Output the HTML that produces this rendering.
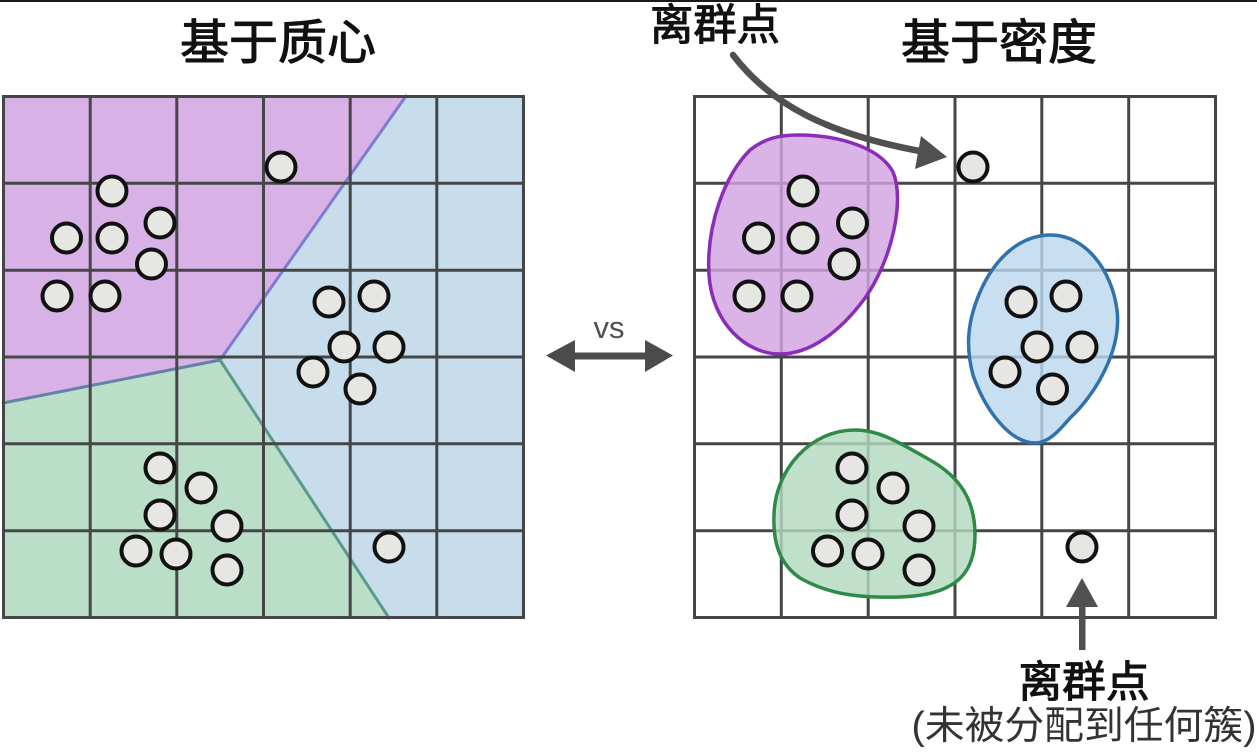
<!DOCTYPE html>
<html><head><meta charset="utf-8"><style>
html,body{margin:0;padding:0;background:#fff;}
svg{display:block;}
.t{font-family:"Liberation Sans","Noto Sans CJK SC",sans-serif;}
.h{stroke:#111;stroke-width:1.1;stroke-linejoin:round;}
</style></head><body>
<svg width="1257" height="752" viewBox="0 0 1257 752" xmlns="http://www.w3.org/2000/svg">
<rect x="0" y="0" width="1257" height="752" fill="#fff"/>
<rect x="0" y="0" width="1257" height="2" fill="#1a1a1a"/>

<!-- Titles -->
<text class="t h" x="278" y="59" font-size="48" text-anchor="middle" textLength="196" lengthAdjust="spacingAndGlyphs" fill="#111">基于质心</text>
<text class="t h" x="999" y="59" font-size="48" text-anchor="middle" textLength="196" lengthAdjust="spacingAndGlyphs" fill="#111">基于密度</text>
<text class="t h" x="715" y="40" font-size="43" text-anchor="middle" textLength="130" lengthAdjust="spacingAndGlyphs" fill="#111">离群点</text>

<!-- LEFT PANEL -->
<polygon points="3,96 406,96 220,360 3,403" fill="#d8b2e6"/>
<polygon points="406,96 524,96 524,618 389,618 220,360" fill="#c7ddec"/>
<polygon points="3,403 220,360 389,618 3,618" fill="#badec7"/>
<g stroke-width="3" fill="none" stroke-linecap="round">
<line x1="406" y1="96" x2="220" y2="360" stroke="#7f7bd0"/>
<line x1="220" y1="360" x2="3" y2="403" stroke="#6481a6"/>
<line x1="220" y1="360" x2="389" y2="618" stroke="#5a9a8c"/>
</g>
<g stroke="#464646" stroke-width="3" fill="none">
<rect x="3.5" y="96.5" width="520" height="521"/>
<line x1="90.2" y1="96.5" x2="90.2" y2="617.5"/>
<line x1="176.8" y1="96.5" x2="176.8" y2="617.5"/>
<line x1="263.5" y1="96.5" x2="263.5" y2="617.5"/>
<line x1="350.2" y1="96.5" x2="350.2" y2="617.5"/>
<line x1="436.8" y1="96.5" x2="436.8" y2="617.5"/>
<line x1="3.5" y1="183.3" x2="523.5" y2="183.3"/>
<line x1="3.5" y1="270.2" x2="523.5" y2="270.2"/>
<line x1="3.5" y1="357" x2="523.5" y2="357"/>
<line x1="3.5" y1="443.8" x2="523.5" y2="443.8"/>
<line x1="3.5" y1="530.7" x2="523.5" y2="530.7"/>
</g>
<g fill="#e6e6e3" stroke="#111" stroke-width="4">
<circle cx="281" cy="167" r="14.5"/>
<circle cx="112" cy="191" r="14.5"/>
<circle cx="160" cy="223" r="14.5"/>
<circle cx="66.5" cy="238" r="14.5"/>
<circle cx="112" cy="238" r="14.5"/>
<circle cx="151.5" cy="264" r="14.5"/>
<circle cx="57" cy="296" r="14.5"/>
<circle cx="105" cy="296" r="14.5"/>
<circle cx="329" cy="302" r="14.5"/>
<circle cx="374" cy="296" r="14.5"/>
<circle cx="344" cy="347" r="14.5"/>
<circle cx="389" cy="347" r="14.5"/>
<circle cx="313" cy="372" r="14.5"/>
<circle cx="360" cy="389" r="14.5"/>
<circle cx="160" cy="468" r="14.5"/>
<circle cx="201" cy="488" r="14.5"/>
<circle cx="160" cy="515" r="14.5"/>
<circle cx="227" cy="526" r="14.5"/>
<circle cx="136" cy="551" r="14.5"/>
<circle cx="176" cy="554" r="14.5"/>
<circle cx="227" cy="570" r="14.5"/>
<circle cx="389" cy="547" r="14.5"/>
</g>

<!-- VS arrow -->
<g fill="#4b4b4b">
<rect x="570" y="352.5" width="80" height="7"/>
<polygon points="546,355.5 575,340 575,372"/>
<polygon points="673,355.5 645,340 645,372"/>
</g>
<text class="t" x="609" y="338" font-size="31" text-anchor="middle" fill="#505050">vs</text>

<!-- RIGHT PANEL -->
<g stroke="#464646" stroke-width="3" fill="none">
<rect x="694.5" y="96.5" width="521" height="521"/>
<line x1="781.3" y1="96.5" x2="781.3" y2="617.5"/>
<line x1="868.2" y1="96.5" x2="868.2" y2="617.5"/>
<line x1="955" y1="96.5" x2="955" y2="617.5"/>
<line x1="1041.8" y1="96.5" x2="1041.8" y2="617.5"/>
<line x1="1128.7" y1="96.5" x2="1128.7" y2="617.5"/>
<line x1="694.5" y1="183.3" x2="1215.5" y2="183.3"/>
<line x1="694.5" y1="270.2" x2="1215.5" y2="270.2"/>
<line x1="694.5" y1="357" x2="1215.5" y2="357"/>
<line x1="694.5" y1="443.8" x2="1215.5" y2="443.8"/>
<line x1="694.5" y1="530.7" x2="1215.5" y2="530.7"/>
</g>

<!-- blobs -->
<path d="M 798 135 C 840 135, 880 148, 893 172 C 905 200, 892 260, 865 298 C 840 332, 810 354, 780 354 C 745 354, 712 322, 709 275 C 706 225, 725 175, 750 150 C 765 138, 780 135, 798 135 Z" fill="#d3a4e2" fill-opacity="0.82" stroke="#8a2db8" stroke-width="3.5"/>
<path d="M 1051 235 C 1085 235, 1112 270, 1117 310 C 1122 350, 1095 395, 1070 418 C 1058 432, 1048 443, 1035 443 C 1010 443, 985 410, 973 375 C 965 345, 968 320, 980 292 C 995 258, 1020 235, 1051 235 Z" fill="#bcd7ee" fill-opacity="0.82" stroke="#2f72ad" stroke-width="3.5"/>
<path d="M 855 430 C 880 430, 900 443, 930 460 C 960 477, 975 500, 975 535 C 975 570, 960 595, 900 597 C 860 598, 830 595, 800 578 C 778 563, 773 540, 774 515 C 775 470, 810 430, 855 430 Z" fill="#b2d9bf" fill-opacity="0.82" stroke="#2f8a48" stroke-width="3.5"/>

<g fill="#e6e6e3" stroke="#111" stroke-width="4">
<circle cx="973" cy="167" r="14.5"/>
<circle cx="803" cy="191" r="14.5"/>
<circle cx="852.5" cy="223" r="14.5"/>
<circle cx="758.5" cy="238" r="14.5"/>
<circle cx="803" cy="238" r="14.5"/>
<circle cx="844" cy="264" r="14.5"/>
<circle cx="749" cy="296" r="14.5"/>
<circle cx="797" cy="296" r="14.5"/>
<circle cx="1021" cy="302" r="14.5"/>
<circle cx="1066" cy="296" r="14.5"/>
<circle cx="1037" cy="347" r="14.5"/>
<circle cx="1082" cy="347" r="14.5"/>
<circle cx="1005" cy="372" r="14.5"/>
<circle cx="1052.5" cy="389" r="14.5"/>
<circle cx="852" cy="468" r="14.5"/>
<circle cx="893" cy="488" r="14.5"/>
<circle cx="852" cy="515" r="14.5"/>
<circle cx="919" cy="526" r="14.5"/>
<circle cx="827.5" cy="551" r="14.5"/>
<circle cx="868" cy="554" r="14.5"/>
<circle cx="919" cy="570" r="14.5"/>
<circle cx="1082" cy="547" r="14.5"/>
</g>

<!-- top curved arrow -->
<path d="M 733 55 C 772 106, 830 135, 925 152" fill="none" stroke="#505050" stroke-width="6.5" stroke-linecap="round"/>
<polygon points="947,157 921,136 915,169" fill="#505050"/>

<!-- bottom arrow -->
<rect x="1079" y="604" width="6.5" height="46" fill="#505050"/>
<polygon points="1082,578 1066,607 1098,607" fill="#505050"/>

<text class="t h" x="1084" y="697" font-size="43" text-anchor="middle" textLength="131" lengthAdjust="spacingAndGlyphs" fill="#111">离群点</text>
<text class="t" x="1084" y="739" font-size="39" text-anchor="middle" textLength="345" lengthAdjust="spacingAndGlyphs" fill="#333">(未被分配到任何簇)</text>
</svg>
</body></html>
